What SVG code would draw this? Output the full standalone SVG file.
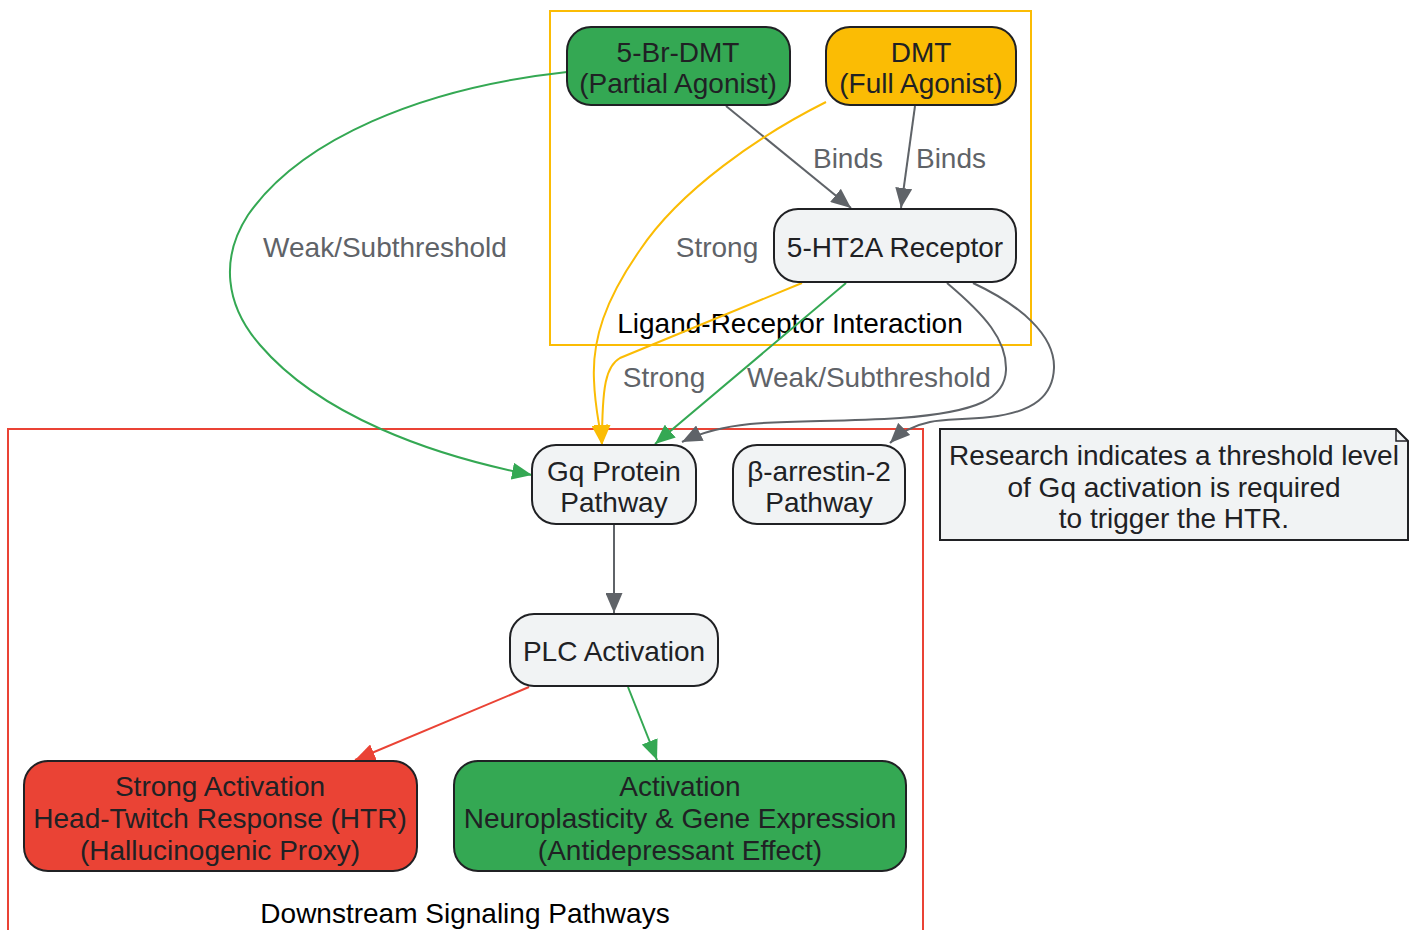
<svg xmlns="http://www.w3.org/2000/svg" width="1418" height="930" viewBox="0 0 1418 930">
<defs>
<style>
text{font-family:"Liberation Sans",Arial,sans-serif;font-size:28px;text-anchor:middle}
.nt{fill:#202124}
.el{fill:#5f6368}
.ct{fill:#000}
.node{stroke:#202124;stroke-width:2}
.e{fill:none;stroke-width:2}
.g{stroke:#5f6368}
.gr{stroke:#34a853}
.y{stroke:#fbbc04}
.r{stroke:#ea4335}
</style>
<marker id="ag" markerUnits="userSpaceOnUse" markerWidth="20" markerHeight="17" refX="20" refY="8.5" orient="auto"><path d="M0,0 L20,8.5 L0,17 z" fill="#5f6368"/></marker>
<marker id="agr" markerUnits="userSpaceOnUse" markerWidth="20" markerHeight="17" refX="20" refY="8.5" orient="auto"><path d="M0,0 L20,8.5 L0,17 z" fill="#34a853"/></marker>
<marker id="ay" markerUnits="userSpaceOnUse" markerWidth="20" markerHeight="17" refX="20" refY="8.5" orient="auto"><path d="M0,0 L20,8.5 L0,17 z" fill="#fbbc04"/></marker>
<marker id="ar" markerUnits="userSpaceOnUse" markerWidth="20" markerHeight="17" refX="20" refY="8.5" orient="auto"><path d="M0,0 L20,8.5 L0,17 z" fill="#ea4335"/></marker>
</defs>
<rect width="1418" height="930" fill="#fff"/>
<g id="cluster-ligand">
<rect x="550" y="11" width="481" height="334" fill="none" stroke="#fbbc04" stroke-width="2"/>
<text class="ct" x="790" y="333">Ligand-Receptor Interaction</text>
</g>
<g id="cluster-downstream">
<rect x="8" y="429" width="915" height="520" fill="none" stroke="#ea4335" stroke-width="2"/>
<text class="ct" x="465" y="923">Downstream Signaling Pathways</text>
</g>
<g id="connectors">
<path class="e g" d="M726,106 L851,208" marker-end="url(#ag)"/>
<path class="e g" d="M915,106 L901,208" marker-end="url(#ag)"/>
<path class="e gr" d="M567,72 C420,88 300,140 248,215 C220,258 225,305 260,345 C320,415 430,455 532,475" marker-end="url(#agr)"/>
<path class="e y" d="M826,102 C760,135 680,190 640,250 C605,300 592,340 594,380 C595,410 600,425 602,445" marker-end="url(#ay)"/>
<path class="e y" d="M802,283 L620,358 C606,366 602,385 602,445" marker-end="url(#ay)"/>
<path class="e gr" d="M846,283 L655,444" marker-end="url(#agr)"/>
<path class="e g" d="M947,283 C985,315 1007,340 1006,370 C1005,398 980,412 900,418 C840,422 790,420 750,424 C720,427 700,433 682,442" marker-end="url(#ag)"/>
<path class="e g" d="M973,283 C1020,305 1055,335 1054,368 C1053,395 1035,412 990,417 C960,420 945,419 930,422 C915,425 900,433 890,443" marker-end="url(#ag)"/>
<path class="e g" d="M614,524 L614,613" marker-end="url(#ag)"/>
<path class="e r" d="M529,687 L355,760" marker-end="url(#ar)"/>
<path class="e gr" d="M628,687 L657,760" marker-end="url(#agr)"/>
<text class="el" x="848" y="168">Binds</text>
<text class="el" x="951" y="168">Binds</text>
<text class="el" x="385" y="257">Weak/Subthreshold</text>
<text class="el" x="717" y="257">Strong</text>
<text class="el" x="664" y="387">Strong</text>
<text class="el" x="869" y="387">Weak/Subthreshold</text>
</g>
<g id="node-5brdmt">
<rect class="node" x="567" y="27" width="223" height="78" rx="24" fill="#34a853"/>
<text class="nt" x="678" y="62">5-Br-DMT</text>
<text class="nt" x="678" y="93">(Partial Agonist)</text>
</g>
<g id="node-dmt">
<rect class="node" x="826" y="27" width="190" height="78" rx="24" fill="#fbbc04"/>
<text class="nt" x="921" y="62">DMT</text>
<text class="nt" x="921" y="93">(Full Agonist)</text>
</g>
<g id="node-receptor">
<rect class="node" x="774" y="209" width="242" height="73" rx="24" fill="#f1f3f4"/>
<text class="nt" x="895" y="257">5-HT2A Receptor</text>
</g>
<g id="node-gq">
<rect class="node" x="532" y="445" width="164" height="79" rx="24" fill="#f1f3f4"/>
<text class="nt" x="614" y="481">Gq Protein</text>
<text class="nt" x="614" y="512">Pathway</text>
</g>
<g id="node-arrestin">
<rect class="node" x="733" y="445" width="172" height="79" rx="24" fill="#f1f3f4"/>
<text class="nt" x="819" y="481">β-arrestin-2</text>
<text class="nt" x="819" y="512">Pathway</text>
</g>
<g id="node-plc">
<rect class="node" x="510" y="614" width="208" height="72" rx="24" fill="#f1f3f4"/>
<text class="nt" x="614" y="661">PLC Activation</text>
</g>
<g id="node-htr">
<rect class="node" x="24" y="761" width="393" height="110" rx="24" fill="#ea4335"/>
<text class="nt" x="220" y="796">Strong Activation</text>
<text class="nt" x="220" y="828">Head-Twitch Response (HTR)</text>
<text class="nt" x="220" y="860">(Hallucinogenic Proxy)</text>
</g>
<g id="node-neuro">
<rect class="node" x="454" y="761" width="452" height="110" rx="24" fill="#34a853"/>
<text class="nt" x="680" y="796">Activation</text>
<text class="nt" x="680" y="828">Neuroplasticity &amp; Gene Expression</text>
<text class="nt" x="680" y="860">(Antidepressant Effect)</text>
</g>
<g id="note">
<path class="node" d="M940,429 L1396,429 L1408,441 L1408,540 L940,540 Z" fill="#f1f3f4"/>
<path d="M1396,429 L1396,441 L1408,441" fill="none" stroke="#202124" stroke-width="1.5"/>
<text class="nt" x="1174" y="465">Research indicates a threshold level</text>
<text class="nt" x="1174" y="497">of Gq activation is required</text>
<text class="nt" x="1174" y="528">to trigger the HTR.</text>
</g>
</svg>
